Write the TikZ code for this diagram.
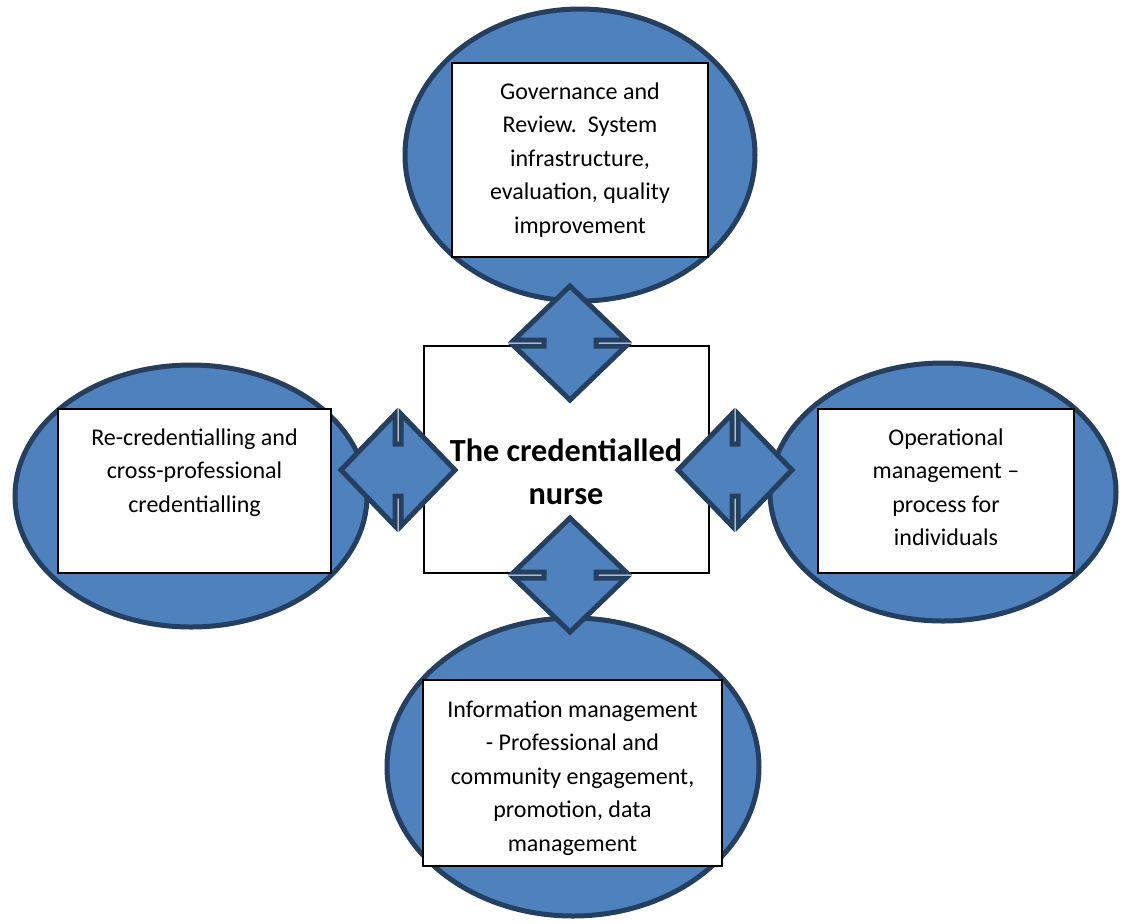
\documentclass[tikz,border=0pt]{standalone}
\usepackage{fontspec}
\setmainfont{Carlito}
\usepackage{tikz}
\usetikzlibrary{calc}

\definecolor{blobfill}{HTML}{4F81BD}
\definecolor{blobline}{HTML}{243F60}

\tikzset{
    blob/.style={fill=blobfill, draw=blobline, line width=2pt},
    box/.style={draw=black, fill=white, line width=0.6pt, inner sep=0pt},
    txt/.style={align=center, inner sep=0pt, font=\fontsize{9.6pt}{13.4pt}\selectfont},
    hub/.style={align=center, inner sep=0pt, font=\fontsize{12.9pt}{17.2pt}\selectfont\bfseries}
}

\begin{document}
\begin{tikzpicture}[x=0.4pt, y=-0.4pt]
        \useasboundingbox (0,0) rectangle (1122,923);

        % the four blobs
        \draw[blob] (580,155) ellipse [x radius=175, y radius=146];
        \draw[blob] (191,496) ellipse [x radius=176, y radius=131];
        \draw[blob] (943,492) ellipse [x radius=173, y radius=129];
        \draw[blob] (573,767) ellipse [x radius=186, y radius=149];

        % boxes
        \node[box, minimum width=102.4pt, minimum height=77.6pt] (gov) at (580,160) {};
        \node[box, minimum width=109.2pt, minimum height=65.6pt] (recred) at (194.5,491) {};
        \node[box, minimum width=102.4pt, minimum height=65.6pt] (oper) at (946,491) {};
        \node[box, minimum width=119.6pt, minimum height=74.4pt] (info) at (572.5,773) {};
        \node[box, minimum width=114pt, minimum height=90.8pt] (nurse) at (566.5,459.5) {};

        \node[txt, anchor=north] (govtext) at (580,82) {Governance and\\Review.\ \ System\\infrastructure,\\evaluation, quality\\improvement};
        \node[txt, anchor=north] (recredtext) at (194.5,428) {Re-credentialling and\\cross-professional\\credentialling};
        \node[txt, anchor=north] (opertext) at (946,428) {Operational\\management –\\process for\\individuals};
        \node[txt, anchor=north] (infotext) at (572.5,700) {Information management\\- Professional and\\community engagement,\\promotion, data\\management};
        \node[hub] (nursetext) at (566,472) {The credentialled\\nurse};

        % double arrows
        \foreach \cx/\cy/\ang in {570/343/0, 398/470/90, 735/470/90, 570/575/0} {
            \draw[blob, shift={(\cx,\cy)}, rotate=\ang]
                (0,-57) -- (56,-3) -- (26,-3) -- (26,3) -- (56,3) -- (0,57)
                -- (-56,3) -- (-26,3) -- (-26,-3) -- (-56,-3) -- cycle;
        }

    \end{tikzpicture}
\end{document}
